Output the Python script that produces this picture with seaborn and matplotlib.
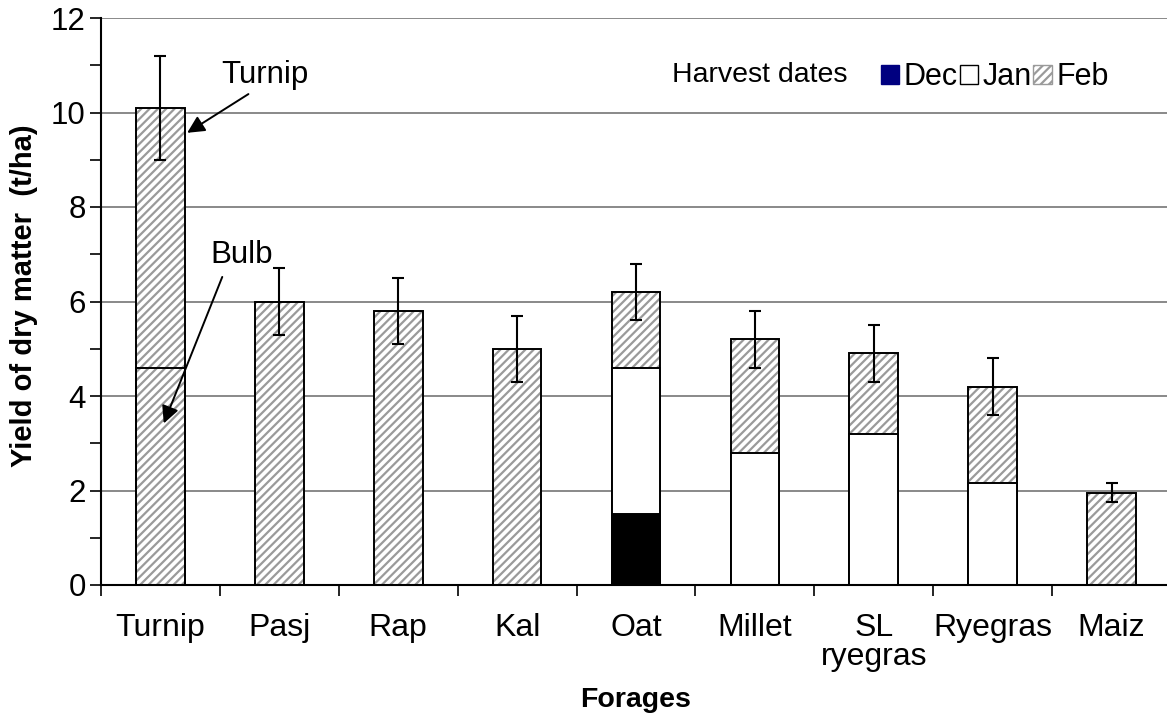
import numpy as np
import pandas as pd
import matplotlib
matplotlib.use("Agg")
import matplotlib.pyplot as plt
from matplotlib.patches import Patch
import seaborn as sns

# ---- data ----
forages = ["Turnip", "Pasj", "Rap", "Kal", "Oat", "Millet", "SL\nryegras", "Ryegras", "Maiz"]
dec = [0, 0, 0, 0, 1.5, 0, 0, 0, 0]
jan = [0, 0, 0, 0, 3.1, 2.8, 3.2, 2.15, 0]
feb = [10.1, 6.0, 5.8, 5.0, 1.6, 2.4, 1.7, 2.05, 1.95]
turnip_bulb = [4.6, 0, 0, 0, 0, 0, 0, 0, 0]
err = [1.1, 0.7, 0.7, 0.7, 0.6, 0.6, 0.6, 0.6, 0.2]
yticks = [0, 2, 4, 6, 8, 10, 12]
legend_labels = ["Dec", "Jan", "Feb"]

sns.set_style("white")
plt.rcParams["font.family"] = ["Liberation Sans", "DejaVu Sans"]
plt.rcParams["hatch.linewidth"] = 1.6
plt.rcParams["hatch.color"] = "#9a9a9a"
for k in ["text.color", "axes.labelcolor", "xtick.color", "ytick.color"]:
    plt.rcParams[k] = "black"

dec_a = np.array(dec)
decjan = dec_a + np.array(jan)
total = decjan + np.array(feb)

df = pd.DataFrame({"forage": forages, "total": total, "decjan": decjan,
                   "dec": dec_a, "bulb": turnip_bulb, "err": err})

W, H = 1167, 719
fig = plt.figure(figsize=(W / 100, H / 100), dpi=100)
ax = fig.add_axes([101 / W, 1 - 585 / H, (1171 - 101) / W, (585 - 18) / H])

BW = 0.41


def layer(col, face, edge, lw, hatch=None, z=2):
    n0 = len(ax.patches)
    sns.barplot(data=df, x="forage", y=col, order=forages, width=BW,
                errorbar=None, color="white", ax=ax)
    for p in ax.patches[n0:]:
        p.set_facecolor(face)
        p.set_edgecolor(edge)
        p.set_linewidth(lw)
        if hatch:
            p.set_hatch(hatch)
        p.set_zorder(z)


# hatched (Feb) totals, grey hatch
layer("total", "white", "#9a9a9a", 0, hatch="////", z=2)
layer("total", "none", "black", 1.4, z=3)
# Jan (white) and Dec (black) segments
layer("decjan", "white", "black", 1.4, z=4)
layer("dec", "black", "black", 1.4, z=5)
# Turnip bulb portion outline
layer("bulb", "none", "black", 1.4, z=6)

ax.errorbar(np.arange(len(forages)), total, yerr=err, fmt="none",
            ecolor="black", elinewidth=1.5, capsize=4.5, capthick=1.5, zorder=8)

# axes styling
ax.set_xlim(-0.5, len(forages) - 0.5)
ax.set_ylim(0, 12)
ax.set_yticks(yticks)
ax.set_yticks(np.arange(1, 12, 2), minor=True)
ax.set_xticks(np.arange(len(forages)))
ax.set_xticks(np.arange(len(forages) + 1) - 0.5, minor=True)
ax.set_xticklabels(forages)
for t in ax.get_xticklabels():
    t.set_linespacing(0.95)
ax.tick_params(axis="y", which="both", direction="out", length=8, width=1.2,
               labelsize=22.5, pad=3, left=True, colors="black")
ax.tick_params(axis="x", which="major", direction="in", length=5, width=1.2,
               labelsize=23, pad=20, bottom=True, colors="black")
ax.tick_params(axis="x", which="minor", direction="out", length=8, width=1.2,
               bottom=True, colors="black")
ax.yaxis.grid(True, which="major", color="#808080", lw=1.3)
ax.xaxis.grid(False)
ax.set_axisbelow(True)
for s in ["top", "right"]:
    ax.spines[s].set_visible(False)
for s in ["left", "bottom"]:
    ax.spines[s].set_color("black")
    ax.spines[s].set_linewidth(1.5)
    ax.spines[s].set_zorder(7)

ax.set_ylabel("Yield of dry matter  (t/ha)", fontsize=21, fontweight="bold",
              va="center", color="black")
ax.yaxis.set_label_coords(-0.072, 0.51)
ax.set_xlabel("Forages", fontsize=20.5, fontweight="bold", va="center", color="black")
ax.xaxis.set_label_coords(0.5, -0.203)

# annotations
ax.text(0.875, 10.79, "Turnip", fontsize=22.5, ha="center", va="center", zorder=9)
ax.annotate("", xy=(0.225, 9.57), xytext=(0.74, 10.39),
            arrowprops=dict(arrowstyle="-|>", color="black", lw=1.4,
                            mutation_scale=26, shrinkA=0, shrinkB=0), zorder=9)
ax.text(0.68, 6.98, "Bulb", fontsize=22.5, ha="center", va="center", zorder=9)
ax.annotate("", xy=(0.028, 3.42), xytext=(0.52, 6.52),
            arrowprops=dict(arrowstyle="-|>", color="black", lw=1.4,
                            mutation_scale=26, shrinkA=0, shrinkB=0), zorder=9)

# legend
fig.text(672 / W, 1 - 75 / H, "Harvest dates", fontsize=20.5, va="center", ha="left")
handles = [Patch(facecolor="#000080", edgecolor="#000080"),
           Patch(facecolor="white", edgecolor="black"),
           Patch(facecolor="white", edgecolor="#9a9a9a", hatch="////")]
ax.legend(handles, legend_labels, ncol=3, frameon=False, loc="center left",
          bbox_to_anchor=(881 / W, 1 - 77 / H), bbox_transform=fig.transFigure,
          fontsize=22, handlelength=0.6, handleheight=0.6, handletextpad=0.15,
          columnspacing=0.05, borderpad=0, borderaxespad=0)

fig.savefig("out.png", dpi=100)
